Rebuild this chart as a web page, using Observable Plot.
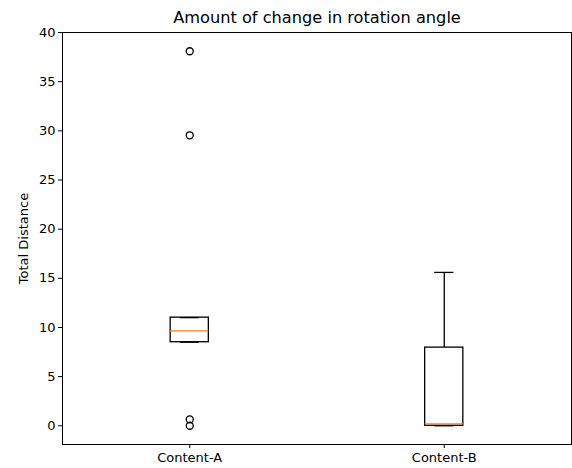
<!DOCTYPE html>
<html>
<head>
<meta charset="utf-8">
<script src="https://cdn.jsdelivr.net/npm/d3@7"></script>
<script src="https://cdn.jsdelivr.net/npm/@observablehq/plot@0.6"></script>
<style>
  html, body { margin: 0; padding: 0; background: #fff; }
  svg { display: block; }
</style>
</head>
<body>
<div id="chart"></div>
<script>
const title = "Amount of change in rotation angle";
const yLabel = "Total Distance";
const categories = ["Content-A", "Content-B"];
const q1 = [8.5, 0.0];
const median = [9.65, 0.2];
const q3 = [11.0, 7.95];
const whiskerLow = [8.5, 0.0];
const whiskerHigh = [11.0, 15.6];
const outlierCategory = ["Content-A", "Content-A", "Content-A", "Content-A"];
const outlierValues = [38.1, 29.55, 0.65, 0.0];
const yTicks = [0, 5, 10, 15, 20, 25, 30, 35, 40];

const pos = c => categories.indexOf(c) + 1;
const boxes = categories.map((c, i) => ({
  cat: c, p: i + 1, q1: q1[i], med: median[i], q3: q3[i], lo: whiskerLow[i], hi: whiskerHigh[i]
}));
const outliers = outlierValues.map((v, i) => ({ p: pos(outlierCategory[i]), v }));
const half = 0.075, capHalf = 0.0375;

const font = "'DejaVu Sans', sans-serif";
const chart = Plot.plot({
  width: 572,
  height: 468,
  marginLeft: 62,
  marginRight: 1,
  marginTop: 32,
  marginBottom: 24,
  style: { fontFamily: font, fontSize: "13px", color: "#000", background: "#fff" },
  x: { type: "linear", domain: [0.5, 2.5] },
  y: { domain: [-1.905, 40.005] },
  marks: [
    Plot.frame({ stroke: "#000", strokeWidth: 1 }),
    Plot.axisY({ ticks: yTicks, tickSize: 4, tickPadding: 3, fontSize: 13, label: yLabel, labelAnchor: "center", labelArrow: "none", labelOffset: 44 }),
    Plot.axisX({ ticks: categories.map((c, i) => i + 1), tickFormat: d => categories[d - 1], tickSize: 4, tickPadding: 4, fontSize: 13, label: null }),
    // whiskers
    Plot.ruleX(boxes, { x: "p", y1: "q3", y2: "hi", stroke: "#000", strokeWidth: 1.3 }),
    Plot.ruleX(boxes, { x: "p", y1: "lo", y2: "q1", stroke: "#000", strokeWidth: 1.3 }),
    // caps
    Plot.ruleY(boxes, { y: "hi", x1: d => d.p - capHalf, x2: d => d.p + capHalf, stroke: "#000", strokeWidth: 1.3 }),
    Plot.ruleY(boxes, { y: "lo", x1: d => d.p - capHalf, x2: d => d.p + capHalf, stroke: "#000", strokeWidth: 1.3 }),
    // boxes
    Plot.rect(boxes, { x1: d => d.p - half, x2: d => d.p + half, y1: "q1", y2: "q3", fill: "none", stroke: "#000", strokeWidth: 1.3 }),
    // medians
    Plot.ruleY(boxes, { y: "med", x1: d => d.p - half, x2: d => d.p + half, stroke: "#ff7f0e", strokeWidth: 1.3 }),
    // outliers
    Plot.dot(outliers, { x: "p", y: "v", r: 3.5, stroke: "#000", strokeWidth: 1.3, fill: "none" }),
    // title
    Plot.text([title], { frameAnchor: "top", dy: -15, fontSize: 16.2, fill: "#000", lineAnchor: "middle" })
  ]
});
document.getElementById("chart").appendChild(chart);
</script>
</body>
</html>
